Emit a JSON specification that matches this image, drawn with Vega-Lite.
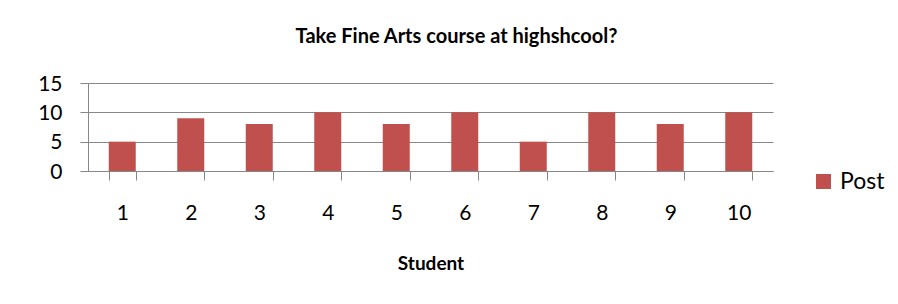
{
  "$schema": "https://vega.github.io/schema/vega-lite/v6.json",
  "autosize": "none",
  "padding": {"left": 88, "top": 83, "right": 125, "bottom": 133},
  "width": 685,
  "height": 88,
  "background": "white",
  "title": {
    "text": "Take Fine Arts course at highshcool?",
    "font": "Lato",
    "fontSize": 20,
    "fontWeight": "bold",
    "color": "#000000",
    "anchor": "middle",
    "dx": 26,
    "offset": 26
  },
  "data": {
    "values": [
      {"Student": "1", "Post": 5},
      {"Student": "2", "Post": 9},
      {"Student": "3", "Post": 8},
      {"Student": "4", "Post": 10},
      {"Student": "5", "Post": 8},
      {"Student": "6", "Post": 10},
      {"Student": "7", "Post": 5},
      {"Student": "8", "Post": 10},
      {"Student": "9", "Post": 8},
      {"Student": "10", "Post": 10}
    ]
  },
  "transform": [{"fold": ["Post"], "as": ["Series", "Value"]}],
  "mark": {"type": "bar", "width": 27},
  "encoding": {
    "x": {
      "field": "Student",
      "type": "ordinal",
      "sort": null,
      "scale": {"paddingInner": 0.6, "paddingOuter": 0.3},
      "axis": {
        "title": "Student",
        "titleFont": "Lato",
        "titleFontSize": 19,
        "titleFontWeight": "bold",
        "titleColor": "#000000",
        "titlePadding": 31,
        "labelFont": "Lato",
        "labelFontSize": 21,
        "labelColor": "#000000",
        "labelAngle": 0,
        "labelPadding": 22,
        "tickBand": "extent",
        "tickSize": 9,
        "tickColor": "#878787",
        "domainColor": "#878787",
        "grid": false
      }
    },
    "y": {
      "field": "Value",
      "type": "quantitative",
      "scale": {"domain": [0, 15], "nice": false},
      "axis": {
        "title": null,
        "values": [0, 5, 10, 15],
        "labelFont": "Lato",
        "labelFontSize": 21,
        "labelColor": "#000000",
        "labelPadding": 18,
        "labelOffset": 1,
        "tickSize": 8,
        "tickColor": "#878787",
        "domainColor": "#878787",
        "grid": true,
        "gridColor": "#878787",
        "gridOpacity": 1
      }
    },
    "color": {
      "field": "Series",
      "type": "nominal",
      "scale": {"range": ["#C0504D"]},
      "legend": {
        "title": null,
        "orient": "none",
        "legendX": 724,
        "legendY": 87,
        "symbolType": "square",
        "symbolSize": 225,
        "symbolStrokeWidth": 0,
        "labelFont": "Lato",
        "labelFontSize": 23,
        "labelColor": "#000000",
        "labelOffset": 5
      }
    }
  },
  "config": {
    "view": {"stroke": null},
    "axis": {"domainWidth": 1, "tickWidth": 1, "gridWidth": 1}
  }
}
